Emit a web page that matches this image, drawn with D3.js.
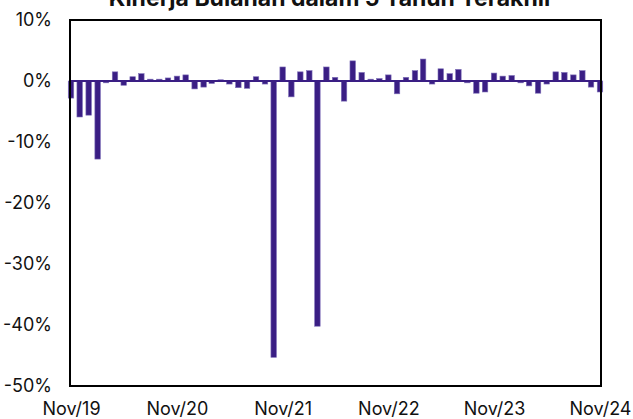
<!DOCTYPE html>
<html>
<head>
<meta charset="utf-8">
<script src="https://cdn.jsdelivr.net/npm/d3@7"></script>
<style>
  body { margin: 0; background: #fff; }
  text { font-family: Inter, "Noto Sans", sans-serif; }
</style>
</head>
<body>
<div id="chart"></div>
<script>
// monthly returns (%) Nov/19 .. Nov/24
const returns = [-2.8, -5.9, -5.6, -12.8, -0.3, 1.5, -0.7, 0.7, 1.2, 0.3,
  0.3, 0.5, 0.8, 1.0, -1.3, -1.0, -0.4, 0.2, -0.5, -1.1,
  -1.2, 0.7, -0.5, -45.3, 2.3, -2.6, 1.5, 1.7, -40.2, 2.3,
  0.6, -3.3, 3.3, 1.4, 0.3, 0.4, 1.0, -2.1, 0.6, 1.7,
  3.6, -0.5, 2.0, 1.2, 1.9, -0.3, -2.0, -1.8, 1.3, 0.8,
  0.9, -0.3, -0.8, -2.0, -0.5, 1.5, 1.4, 1.0, 1.7, -1.0,
  -1.8];
const months = d3.timeMonth.range(new Date(2019, 10, 1), new Date(2024, 11, 1));
const xTickLabels = ["Nov/19", "Nov/20", "Nov/21", "Nov/22", "Nov/23", "Nov/24"];
const yTicks = [10, 0, -10, -20, -30, -40, -50];

const data = months.map((m, i) => ({ date: m, value: returns[i] }));

const w = 633;
const h = 419;
const margin = { top: 20, right: 32, bottom: 33, left: 71 };
const barColor = "#3a1e84";

const svg = d3.select("#chart")
  .append("svg")
  .attr("width", w)
  .attr("height", h);

const x = d3.scaleTime()
  .domain([months[0], months[months.length - 1]])
  .range([margin.left, w - margin.right - 1]);

const y = d3.scaleLinear()
  .domain([-50, 10])
  .range([h - margin.bottom, margin.top]);

const bw = 5.5;

svg.append("g")
  .selectAll("rect")
  .data(data)
  .join("rect")
  .attr("x", d => x(d.date) - bw / 2)
  .attr("y", d => y(Math.max(0, d.value)))
  .attr("width", bw)
  .attr("height", d => Math.abs(y(d.value) - y(0)))
  .attr("fill", barColor)
  .attr("stroke", "#7e6fb8")
  .attr("stroke-width", 0.6);

// zero line
svg.append("line")
  .attr("x1", margin.left)
  .attr("x2", w - margin.right)
  .attr("y1", y(0))
  .attr("y2", y(0))
  .attr("stroke", barColor)
  .attr("stroke-width", 1.8);

// frame
svg.append("rect")
  .attr("x", margin.left - 1)
  .attr("y", margin.top)
  .attr("width", w - margin.right - margin.left + 1)
  .attr("height", h - margin.bottom - margin.top)
  .attr("fill", "none")
  .attr("stroke", "#000")
  .attr("stroke-width", 2);

const yAxis = svg.append("g")
  .attr("transform", `translate(${margin.left - 1},0)`)
  .call(d3.axisLeft(y).tickValues(yTicks).tickSize(0).tickPadding(18).tickFormat(d => d + "%"));
yAxis.select(".domain").remove();
yAxis.selectAll("text").attr("font-size", 18).attr("fill", "#111").attr("font-family", "Inter");

const xAxis = svg.append("g")
  .attr("transform", `translate(0,${h - margin.bottom})`)
  .call(d3.axisBottom(x)
    .tickValues(months.filter((m, i) => i % 12 === 0))
    .tickSize(0).tickPadding(16)
    .tickFormat((d, i) => xTickLabels[i]));
xAxis.select(".domain").remove();
xAxis.selectAll("text").attr("font-size", 18).attr("fill", "#111").attr("font-family", "Inter");

// title sits partly above the top edge, as in the source image
svg.append("text")
  .attr("x", 331)
  .attr("y", 6)
  .attr("text-anchor", "middle")
  .attr("font-size", 23)
  .attr("font-weight", "bold")
  .attr("fill", "#111")
  .text("Kinerja Bulanan dalam 5 Tahun Terakhir");
</script>
</body>
</html>
